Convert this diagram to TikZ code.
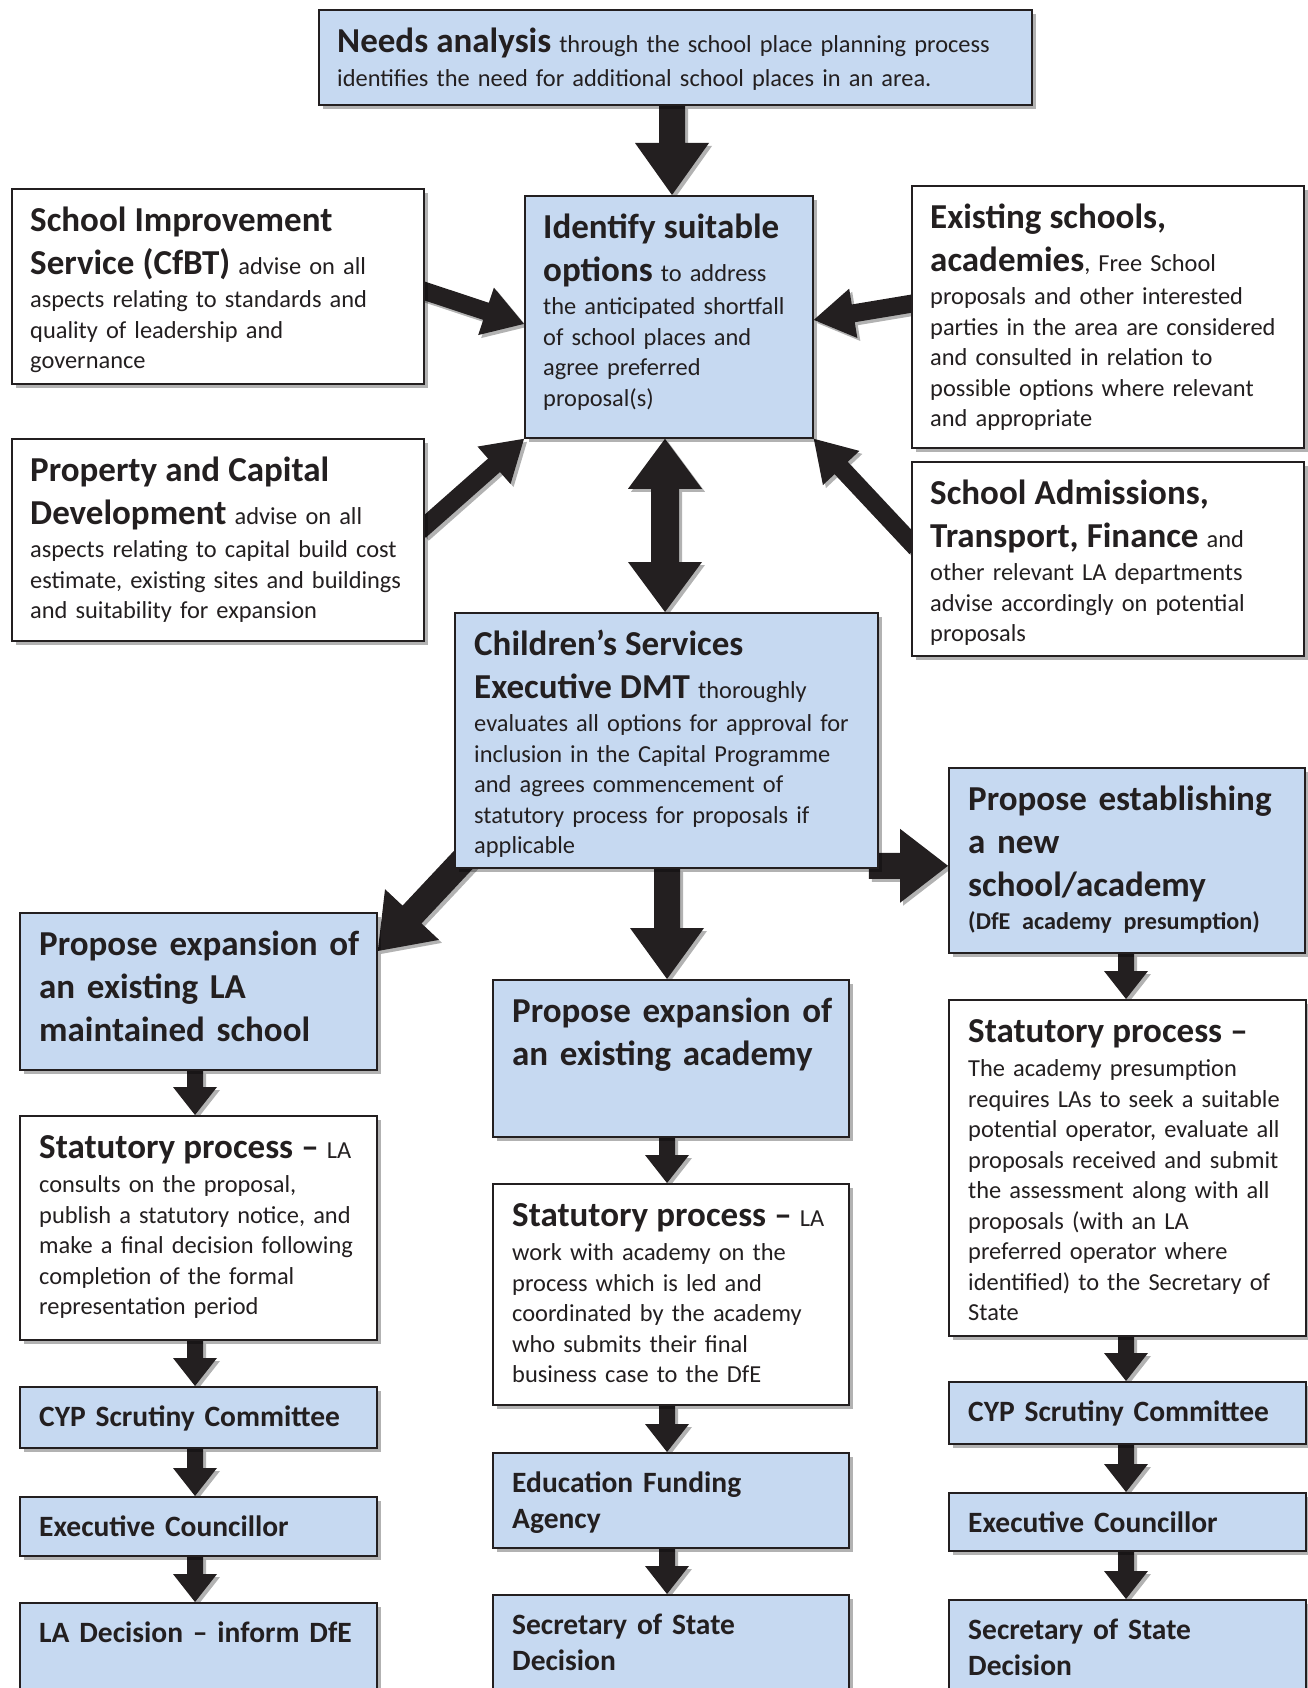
\documentclass[tikz,border=0pt]{standalone}
\usepackage{fontspec}
\setmainfont{Carlito}
\usetikzlibrary{calc,shadows}
\pgfdeclarelayer{bg}
\pgfsetlayers{bg,main}
\definecolor{boxblue}{RGB}{198,217,241}
\definecolor{ink}{RGB}{35,31,32}
\newcommand\fsBody{\fontsize{24.4}{30.5}\selectfont\lineskiplimit=-100pt\relax}
\newcommand\fsHead{\fontsize{35}{43}\selectfont\bfseries\lineskiplimit=-100pt\relax}
\newcommand\fsSub{\fontsize{29.5}{36.6}\selectfont\bfseries\lineskiplimit=-100pt\relax}
\newcommand\hd[1]{{\fontsize{35}{43}\selectfont\bfseries #1}}
\newcommand\fst{\rule{0pt}{28pt}}
\newcommand\blockarrow[5]{%
  \path[arrowfill] let \p1=($(#2)-(#1)$), \n1={atan2(\y1,\x1)} in
    ($(#1)+(\n1+90:#3)$) -- ($(#2)+(\n1+180:#5)+(\n1+90:#3)$)
    -- ($(#2)+(\n1+180:#5)+(\n1+90:#4)$) -- (#2)
    -- ($(#2)+(\n1+180:#5)+(\n1-90:#4)$) -- ($(#2)+(\n1+180:#5)+(\n1-90:#3)$)
    -- ($(#1)+(\n1-90:#3)$) -- cycle;}
\newcommand\dblarrow[5]{%
  \path[arrowfill] let \p1=($(#2)-(#1)$), \n1={atan2(\y1,\x1)} in
    ($(#1)+(\n1:#5)+(\n1+90:#3)$) -- ($(#2)+(\n1+180:#5)+(\n1+90:#3)$)
    -- ($(#2)+(\n1+180:#5)+(\n1+90:#4)$) -- (#2)
    -- ($(#2)+(\n1+180:#5)+(\n1-90:#4)$) -- ($(#2)+(\n1+180:#5)+(\n1-90:#3)$)
    -- ($(#1)+(\n1:#5)+(\n1-90:#3)$) -- ($(#1)+(\n1:#5)+(\n1-90:#4)$)
    -- (#1) -- ($(#1)+(\n1:#5)+(\n1+90:#4)$) -- cycle;}
\tikzset{
  boxbase/.style={draw=ink, line width=1.8pt, inner sep=0pt, anchor=north west,
    drop shadow={shadow xshift=4pt, shadow yshift=-4pt, opacity=0.3, fill=black}},
  bluebox/.style={boxbase, fill=boxblue},
  whitebox/.style={boxbase, fill=white},
  txt/.style={anchor=north west, inner sep=0pt, align=left, text width=700pt, text=ink, font=\fsBody},
  arrowfill/.style={fill=ink, drop shadow={shadow xshift=3pt, shadow yshift=-3pt, opacity=0.3, fill=black}}
}
\newcommand\bx[6]{\node[#1, minimum width=#4-#2, minimum height=#5-#3] (#6) at (#2,#3) {};}
\begin{document}
\begin{tikzpicture}[x=1pt,y=-1pt]
\useasboundingbox (0,0) rectangle (1307,1688);
% boxes
\bx{bluebox}{318}{9}{1031}{104}{needs}
\bx{whitebox}{11}{188}{423}{383}{sis}
\bx{bluebox}{524}{195}{812}{437}{ident}
\bx{whitebox}{911}{185}{1303}{447}{exist}
\bx{whitebox}{11}{438}{423}{640}{prop}
\bx{whitebox}{911}{461}{1303}{655}{adm}
\bx{bluebox}{454}{612}{877}{867}{cs}
\bx{bluebox}{948}{767}{1304}{952}{pn}
\bx{bluebox}{19}{912}{376}{1069}{ple}
\bx{bluebox}{492}{979}{848}{1136}{pea}
\bx{whitebox}{19}{1115}{376}{1339}{sl}
\bx{whitebox}{492}{1183}{848}{1404}{sm}
\bx{whitebox}{948}{999}{1305}{1335}{sr}
\bx{bluebox}{19}{1386}{376}{1447}{cypl}
\bx{bluebox}{19}{1496}{376}{1555}{exl}
\bx{bluebox}{19}{1602}{376}{1720}{lad}
\bx{bluebox}{492}{1452}{848}{1547}{efa}
\bx{bluebox}{492}{1594}{848}{1720}{sosm}
\bx{bluebox}{948}{1381}{1305}{1443}{cypr}
\bx{bluebox}{948}{1492}{1305}{1550}{exr}
\bx{bluebox}{948}{1599}{1305}{1720}{sosr}
% texts
\node[txt] (tneeds) at ($(needs.north west)+(19,15)$) {\fst\hd{Needs analysis} through the school place planning process\\[4pt]identifies the need for additional school places in an area.};
\node[txt] (tsis) at ($(sis.north west)+(19,15)$) {\fst\hd{School Improvement}\\[12.5pt]\hd{Service (CfBT)} advise on all\\[3pt]aspects relating to standards and\\quality of leadership and\\governance};
\node[txt] (tident) at ($(ident.north west)+(19,15)$) {\fst\hd{Identify suitable}\\[12.5pt]\hd{options} to address\\[3pt]the anticipated shortfall\\of school places and\\agree preferred\\proposal(s)};
\node[txt] (texist) at ($(exist.north west)+(19,15)$) {\fst\hd{Existing schools,}\\[12.5pt]\hd{academies}, Free School\\[3pt]proposals and other interested\\parties in the area are considered\\and consulted in relation to\\possible options where relevant\\and appropriate};
\node[txt] (tprop) at ($(prop.north west)+(19,15)$) {\fst\hd{Property and Capital}\\[12.5pt]\hd{Development} advise on all\\[3pt]aspects relating to capital build cost\\estimate, existing sites and buildings\\and suitability for expansion};
\node[txt] (tadm) at ($(adm.north west)+(19,15)$) {\fst\hd{School Admissions,}\\[12.5pt]\hd{Transport, Finance} and\\[3pt]other relevant LA departments\\advise accordingly on potential\\proposals};
\node[txt] (tcs) at ($(cs.north west)+(20,15)$) {\fst\hd{Children’s Services}\\[12.5pt]\hd{Executive DMT} thoroughly\\[3pt]evaluates all options for approval for\\inclusion in the Capital Programme\\and agrees commencement of\\statutory process for proposals if\\applicable};
\node[txt, font=\fsHead] (tpn) at ($(pn.north west)+(20,15)$) {\fst Propose establishing\\a new\\school/academy\\[-10pt]{\fontsize{24.2}{30}\selectfont (DfE academy presumption)}};
\node[txt, font=\fsHead] (tple) at ($(ple.north west)+(20,15)$) {\fst Propose expansion of\\an existing LA\\maintained school};
\node[txt, font=\fsHead] (tpea) at ($(pea.north west)+(20,15)$) {\fst Propose expansion of\\an existing academy};
\node[txt] (tsl) at ($(sl.north west)+(20,15)$) {\fst\hd{Statutory process –} LA\\[4pt]consults on the proposal,\\publish a statutory notice, and\\make a final decision following\\completion of the formal\\representation period};
\node[txt] (tsm) at ($(sm.north west)+(20,15)$) {\fst\hd{Statutory process –} LA\\[4pt]work with academy on the\\process which is led and\\coordinated by the academy\\who submits their final\\business case to the DfE};
\node[txt] (tsr) at ($(sr.north west)+(20,15)$) {\fst\hd{Statutory process –}\\[4pt]The academy presumption\\requires LAs to seek a suitable\\potential operator, evaluate all\\proposals received and submit\\the assessment along with all\\proposals (with an LA\\preferred operator where\\identified) to the Secretary of\\State};
\node[txt, font=\fsSub] (tcypl) at ($(cypl.north west)+(20,12)$) {\fst CYP Scrutiny Committee};
\node[txt, font=\fsSub] (texl) at ($(exl.north west)+(20,12)$) {\fst Executive Councillor};
\node[txt, font=\fsSub] (tlad) at ($(lad.north west)+(20,12)$) {\fst LA Decision – inform DfE};
\node[txt, font=\fsSub] (tefa) at ($(efa.north west)+(20,12)$) {\fst Education Funding\\Agency};
\node[txt, font=\fsSub] (tsosm) at ($(sosm.north west)+(20,12)$) {\fst Secretary of State\\Decision};
\node[txt, font=\fsSub] (tcypr) at ($(cypr.north west)+(20,12)$) {\fst CYP Scrutiny Committee};
\node[txt, font=\fsSub] (texr) at ($(exr.north west)+(20,12)$) {\fst Executive Councillor};
\node[txt, font=\fsSub] (tsosr) at ($(sosr.north west)+(20,12)$) {\fst Secretary of State\\Decision};
% arrow coordinates
\coordinate (xN) at (672,0);
\coordinate (xD) at (665,0);
\coordinate (xM) at (667,0);
\coordinate (xL) at (195,0);
\coordinate (xR) at (1126,0);
\coordinate (a1s) at (needs.south -| xN);
\coordinate (a1e) at (ident.north -| xN);
\coordinate (a2s) at ($(sis.east)+(-5,3)$);
\coordinate (a2e) at ($(ident.west)+(0,7)$);
\coordinate (a3s) at ($(prop.east)+(-5,-9)$);
\coordinate (a3e) at (ident.south west);
\coordinate (a4s) at ($(exist.west)+(5,-14)$);
\coordinate (a4e) at ($(ident.east)+(0,3)$);
\coordinate (a5s) at ($(adm.west)+(5,-11)$);
\coordinate (a5e) at (ident.south east);
\coordinate (a6s) at (ident.south -| xD);
\coordinate (a6e) at (cs.north -| xD);
\coordinate (a7s) at ($(cs.south west)+(15,-15)$);
\coordinate (a7e) at ($(ple.north east)+(0,39)$);
\coordinate (a8s) at (cs.south -| xM);
\coordinate (a8e) at (pea.north -| xM);
\coordinate (a9s) at ($(cs.south east)+(-10,-3)$);
\coordinate (a9e) at (a9s -| pn.west);
\coordinate (l1s) at (ple.south -| xL);  \coordinate (l1e) at (sl.north -| xL);
\coordinate (l2s) at (sl.south -| xL);   \coordinate (l2e) at (cypl.north -| xL);
\coordinate (l3s) at (cypl.south -| xL); \coordinate (l3e) at (exl.north -| xL);
\coordinate (l4s) at (exl.south -| xL);  \coordinate (l4e) at (lad.north -| xL);
\coordinate (m1s) at (pea.south -| xM);  \coordinate (m1e) at (sm.north -| xM);
\coordinate (m2s) at (sm.south -| xM);   \coordinate (m2e) at (efa.north -| xM);
\coordinate (m3s) at (efa.south -| xM);  \coordinate (m3e) at (sosm.north -| xM);
\coordinate (r1s) at (pn.south -| xR);   \coordinate (r1e) at (sr.north -| xR);
\coordinate (r2s) at (sr.south -| xR);   \coordinate (r2e) at (cypr.north -| xR);
\coordinate (r3s) at (cypr.south -| xR); \coordinate (r3e) at (exr.north -| xR);
\coordinate (r4s) at (exr.south -| xR);  \coordinate (r4e) at (sosr.north -| xR);
\begin{pgfonlayer}{bg}
\blockarrow{a1s}{a1e}{13pt}{37pt}{52pt}
\blockarrow{a2s}{a2e}{9pt}{25pt}{40pt}
\blockarrow{a3s}{a3e}{9pt}{25pt}{40pt}
\blockarrow{a4s}{a4e}{9pt}{25pt}{40pt}
\blockarrow{a5s}{a5e}{9pt}{25pt}{40pt}
\dblarrow{a6s}{a6e}{14pt}{37pt}{50pt}
\blockarrow{a7s}{a7e}{13pt}{37pt}{50pt}
\blockarrow{a8s}{a8e}{13pt}{37pt}{51pt}
\blockarrow{a9s}{a9e}{13pt}{37pt}{48pt}
\blockarrow{l1s}{l1e}{8pt}{22pt}{28pt}
\blockarrow{l2s}{l2e}{8pt}{22pt}{28pt}
\blockarrow{l3s}{l3e}{8pt}{22pt}{28pt}
\blockarrow{l4s}{l4e}{8pt}{22pt}{28pt}
\blockarrow{m1s}{m1e}{8pt}{22pt}{28pt}
\blockarrow{m2s}{m2e}{8pt}{22pt}{28pt}
\blockarrow{m3s}{m3e}{8pt}{22pt}{28pt}
\blockarrow{r1s}{r1e}{8pt}{22pt}{28pt}
\blockarrow{r2s}{r2e}{8pt}{22pt}{28pt}
\blockarrow{r3s}{r3e}{8pt}{22pt}{28pt}
\blockarrow{r4s}{r4e}{8pt}{22pt}{28pt}
\end{pgfonlayer}
\end{tikzpicture}
\end{document}
